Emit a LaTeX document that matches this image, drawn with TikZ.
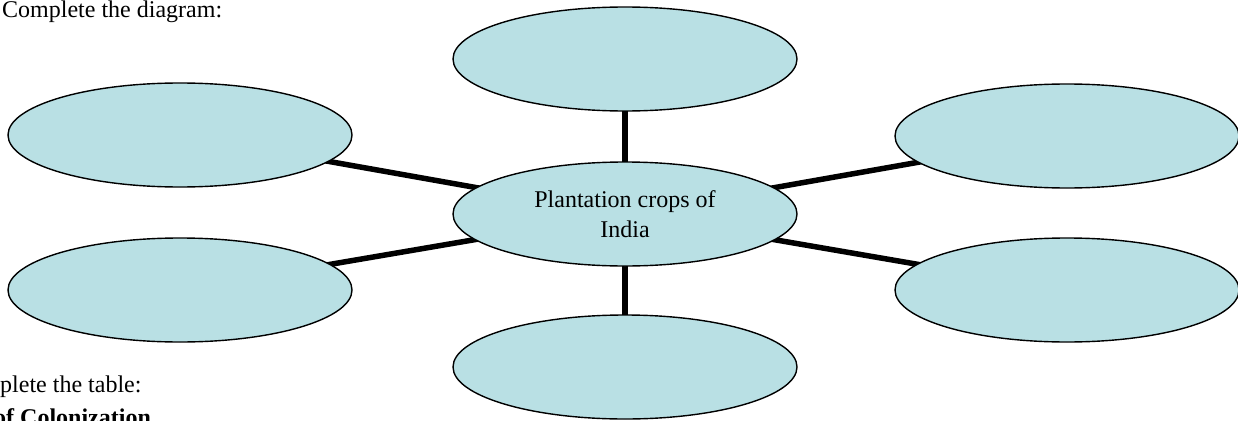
\documentclass[tikz,border=0pt]{standalone}
\usepackage{fontspec}
\setmainfont{Liberation Serif}
\usetikzlibrary{shapes.geometric,backgrounds}
\definecolor{bubblefill}{RGB}{185,224,228}
\tikzset{
  bubble/.style={ellipse, draw=black, line width=1.4pt, fill=bubblefill,
    minimum width=344pt, minimum height=104pt, inner sep=0pt},
  spoke/.style={line width=5.5pt, black},
  caption/.style={anchor=base west, inner sep=0pt, font=\fontsize{24}{30}\selectfont}
}
\begin{document}
\begin{tikzpicture}[x=1pt, y=-1pt]
  \useasboundingbox (0,0) rectangle (1238,420);
  \clip (0,0) rectangle (1238,420);

  % central topic
  \node[bubble, align=center, font=\fontsize{24}{30}\selectfont] (ctr) at (625,214)
    {Plantation crops of\\India};

  % surrounding blank bubbles
  \node[bubble] (top) at (625,59)  {};
  \node[bubble] (bot) at (625,367) {};
  \node[bubble] (lu)  at (180,135) {};
  \node[bubble] (ll)  at (180,290) {};
  \node[bubble] (ru)  at (1067,136) {};
  \node[bubble] (rl)  at (1067,290) {};

  % spokes, hidden under the bubbles
  \begin{pgfonlayer}{background}
    \foreach \n in {top,bot,lu,ll,ru,rl}
      \draw[spoke] (ctr.center) -- (\n.center);
  \end{pgfonlayer}

  % page text
  \node[caption] (t1) at (2,18) {Complete the diagram:};
  \node[caption] (t2) at (0,392) {plete the table:};
  \node[caption, font=\fontsize{24}{30}\selectfont\bfseries] (t3) at (-6,425) {of Colonization};
\end{tikzpicture}
\end{document}
